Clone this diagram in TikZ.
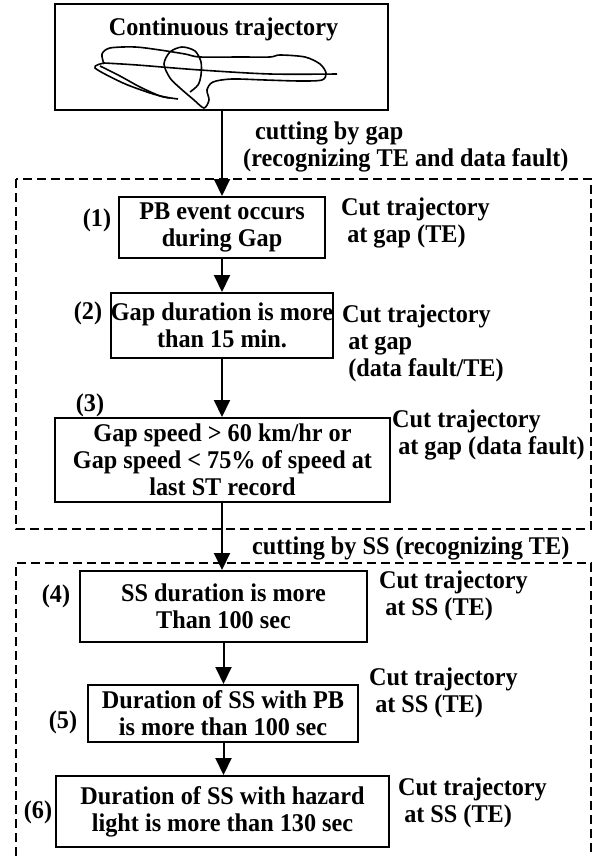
\documentclass[tikz,border=0pt]{standalone}
\usepackage{fontspec}
\setmainfont{Liberation Serif}[FakeStretch=0.95]
\usetikzlibrary{arrows.meta}
\begin{document}
\begin{tikzpicture}[x=1pt,y=-1pt,
  txt/.style={font=\bfseries\fontsize{25.5}{27}\selectfont, inner sep=0pt},
  box/.style 2 args={txt, draw, line width=2pt, align=center, minimum width=#1, minimum height=#2},
  lbl/.style={txt, align=left, anchor=west},
  arr/.style={-{Triangle[width=16pt,length=17pt]}, line width=2pt},
  dsh/.style={dash pattern=on 9pt off 5pt, line width=2.4pt},
  traj/.style={line width=1.6pt}
]
\useasboundingbox (0,0) rectangle (594,856);

% top box
\node[box={333}{106}] (top) at (221.5,57) {};
\node[txt] (title) at (223.5,29) {Continuous trajectory};
\draw[traj] plot[smooth] coordinates {(104,64)(102,54)(110,48)(135,47)(160,50)(185,54)(200,57)(240,57)(270,57)(280,55)(305,57)(320,64)(326,73)(322,80)(300,81)(265,80)(232,79)(213,82)(207,90)(209,100)(204,108)(194,100)(180,88)(170,78)(164,64)(170,52)(182,47)(195,51)(201,62)(201,75)(198,85)(190,92)};
\draw[traj] plot[smooth] coordinates {(104,63)(137,65)(200,70)(270,74)(337,74)};
\draw[traj] plot[smooth] coordinates {(104,63)(95,68)(123,83)(150,93)(165,97)(178,99)};
\draw[traj] plot[smooth] coordinates {(100,66)(120,76)(140,87)(160,96)(170,98)};

% dashed frames
\draw[dsh] (16,179) rectangle (591,529);
\draw[dsh] (16,856) -- (16,563) -- (591,563) -- (591,856);

% boxes
\node[box={206}{61}] (b1) at (222,227.5) {PB event occurs\\during Gap};
\node[box={222}{65}] (b2) at (222,325.5) {Gap duration is more\\than 15 min.};
\node[box={335}{84}] (b3) at (222.5,460) {Gap speed > 60 km/hr or\\Gap speed < 75\% of speed at\\last ST record};
\node[box={287}{71}] (b4) at (223.5,606.5) {SS duration is more\\Than 100 sec};
\node[box={270}{57}] (b5) at (223,713.5) {Duration of SS with PB\\is more than 100 sec};
\node[box={333}{71}] (b6) at (222.5,811.5) {Duration of SS with hazard\\light is more than 130 sec};

% numbers
\node[txt] (n1) at (97,220) {(1)};
\node[txt] (n2) at (88,313) {(2)};
\node[txt] (n3) at (90,405) {(3)};
\node[txt] (n4) at (56,596) {(4)};
\node[txt] (n5) at (63,722) {(5)};
\node[txt] (n6) at (38,812) {(6)};

% right labels
\node[lbl] (l1) at (341,223) {Cut trajectory\\\ at gap (TE)};
\node[lbl] (l2) at (342,343) {Cut trajectory\\\ at gap\\\ (data fault/TE)};
\node[lbl] (l3) at (392,435) {Cut trajectory\\\ at gap (data fault)};
\node[lbl] (l4) at (379,596) {Cut trajectory\\\ at SS (TE)};
\node[lbl] (l5) at (369,693) {Cut trajectory\\\ at SS (TE)};
\node[lbl] (l6) at (398,803) {Cut trajectory\\\ at SS (TE)};

% cutting labels
\node[lbl] (c1) at (243,147) {\hspace{12pt}cutting by gap\\(recognizing TE and data fault)};
\node[lbl] (c2) at (252,548) {cutting by SS (recognizing TE)};

% arrows
\draw[arr] (b1.north |- top.south) -- (b1.north);
\draw[arr] (b1.south) -- (b1.south |- b2.north);
\draw[arr] (b2.south) -- (b2.south |- b3.north);
\draw[arr] (b2.south |- b3.south) -- (b2.south |- b4.north);
\draw[arr] (b4.south) -- (b4.south |- b5.north);
\draw[arr] (b4.south |- b5.south) -- (b4.south |- b6.north);
\end{tikzpicture}
\end{document}
